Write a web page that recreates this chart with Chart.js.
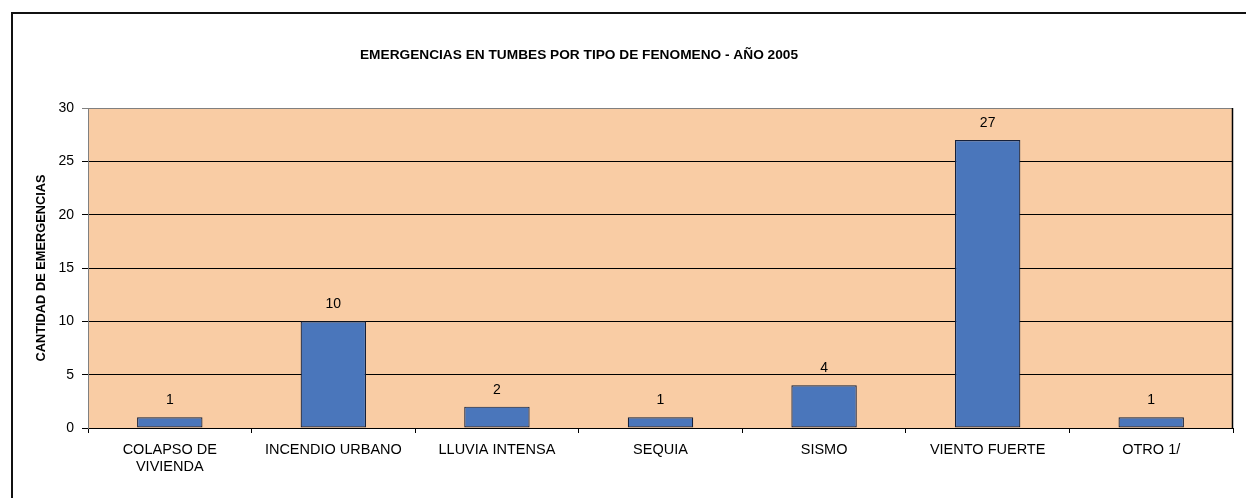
<!DOCTYPE html>
<html>
<head>
<meta charset="utf-8">
<script src="https://cdn.jsdelivr.net/npm/chart.js@4"></script>
<style>
  html, body { margin: 0; padding: 0; background: #fff; }
  #wrap { width: 1246px; height: 498px; }
</style>
</head>
<body>
<div id="wrap"><canvas id="myChart"></canvas></div>
<script>
// data
const categories = [['COLAPSO DE', 'VIVIENDA'], 'INCENDIO URBANO', 'LLUVIA INTENSA', 'SEQUIA', 'SISMO', 'VIENTO FUERTE', 'OTRO 1/'];
const emergencias = [1, 10, 2, 1, 4, 27, 1];
const yTicks = [0, 5, 10, 15, 20, 25, 30];
const chartTitle = 'EMERGENCIAS EN TUMBES POR TIPO DE FENOMENO - AÑO 2005';

const FONT = 'Arial, "Liberation Sans", sans-serif';

// plot background, outer frame and title
const backdrop = {
    id: 'backdrop',
    beforeDraw(chart) {
        const ctx = chart.ctx, a = chart.chartArea;
        ctx.save();
        ctx.fillStyle = '#F9CCA4';
        ctx.fillRect(a.left, a.top, a.right - a.left, a.bottom - a.top);
        // frame around the picture (only top and left visible)
        ctx.strokeStyle = '#111';
        ctx.lineWidth = 2;
        ctx.beginPath();
        ctx.moveTo(12, 600);
        ctx.lineTo(12, 13);
        ctx.lineTo(1300, 13);
        ctx.stroke();
        // title
        ctx.fillStyle = '#000';
        ctx.font = 'bold 13.7px ' + FONT;
        ctx.textAlign = 'center';
        ctx.textBaseline = 'middle';
        ctx.fillText(chartTitle, 579, 55);
        ctx.restore();
    },
    afterDatasetsDraw(chart) {
        const ctx = chart.ctx, a = chart.chartArea;
        ctx.save();
        ctx.lineWidth = 1;
        ctx.strokeStyle = '#808080';
        ctx.beginPath();
        ctx.moveTo(a.left + 0.5, a.bottom);
        ctx.lineTo(a.left + 0.5, a.top + 0.5);
        ctx.lineTo(a.right, a.top + 0.5);
        ctx.stroke();
        ctx.strokeStyle = '#000';
        ctx.lineWidth = 1.5;
        ctx.beginPath();
        ctx.moveTo(a.right - 0.5, a.top);
        ctx.lineTo(a.right - 0.5, a.bottom);
        ctx.stroke();
        ctx.restore();
    }
};

// value labels over the bars
const valueLabels = {
    id: 'valueLabels',
    afterDatasetsDraw(chart) {
        const ctx = chart.ctx;
        const meta = chart.getDatasetMeta(0);
        ctx.save();
        ctx.font = '14px ' + FONT;
        ctx.fillStyle = '#000';
        ctx.textAlign = 'center';
        ctx.textBaseline = 'middle';
        meta.data.forEach((bar, i) => {
            ctx.fillText(emergencias[i], bar.x, bar.y - 17);
        });
        ctx.restore();
    }
};

const ctx = document.getElementById('myChart').getContext('2d');
const myChart = new Chart(ctx, {
    type: 'bar',
    data: {
        labels: categories,
        datasets: [{
            label: 'Emergencias',
            data: emergencias,
            backgroundColor: '#4A76BB',
            borderColor: '#15203A',
            borderWidth: 1.2,
            borderSkipped: false,
            barPercentage: 0.4,
            categoryPercentage: 1
        }]
    },
    options: {
        responsive: true,
        maintainAspectRatio: false,
        animation: false,
        layout: { padding: { left: 30, right: 13, top: 108, bottom: 0 } },
        plugins: {
            legend: { display: false },
            tooltip: { enabled: false },
            title: { display: false }
        },
        scales: {
            x: {
                grid: {
                    offset: true,
                    drawOnChartArea: false,
                    drawTicks: true,
                    tickLength: 5,
                    color: '#000'
                },
                border: { color: '#000', width: 1 },
                ticks: {
                    color: '#000',
                    maxRotation: 0,
                    autoSkip: false,
                    padding: 8,
                    font: { family: FONT, size: 14.5 }
                },
                afterFit(scale) { scale.height = 70; }
            },
            y: {
                min: 0,
                max: 30,
                afterBuildTicks(scale) { scale.ticks = yTicks.map(v => ({ value: v })); },
                grid: {
                    color: (c) => (c.tick && c.tick.value === 30) ? '#808080' : '#000',
                    tickLength: 6
                },
                border: { color: '#808080' },
                ticks: {
                    color: '#000',
                    padding: 8,
                    font: { family: FONT, size: 14 }
                },
                title: {
                    display: true,
                    text: 'CANTIDAD DE EMERGENCIAS',
                    color: '#000',
                    padding: { top: 4, bottom: 0 },
                    font: { family: FONT, size: 12.8, weight: 'bold' }
                },
                afterFit(scale) { scale.width = 58; }
            }
        }
    },
    plugins: [backdrop, valueLabels]
});
</script>
</body>
</html>
